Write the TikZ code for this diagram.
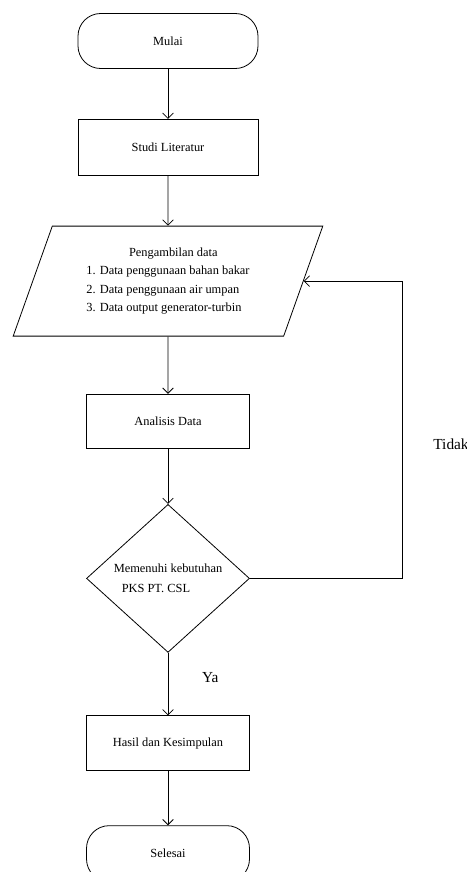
\documentclass[tikz,border=0pt]{standalone}
\usepackage{fontspec}
\setmainfont{Liberation Serif}
\usepackage{tikz}
\usetikzlibrary{shapes.geometric, arrows.meta}
\usetikzlibrary{positioning}
\tikzstyle{terminal} = [rectangle, rounded corners=17pt, minimum width=135pt, minimum
height=41.25pt, text centered, draw=black, semithick, font=\fontsize{9.3}{14}\selectfont]
\tikzstyle{data} = [trapezium, trapezium left angle=69, trapezium right angle=111,
trapezium stretches=true, minimum width=232.5pt, minimum height=82.5pt, align=left,
draw=black, semithick, font=\fontsize{9.3}{13.9}\selectfont]
\tikzstyle{process} = [rectangle, minimum width=122.25pt, minimum height=40.5pt,
text centered, draw=black, semithick, font=\fontsize{9.3}{14}\selectfont]
\tikzstyle{decision} = [diamond, minimum width=122.25pt, minimum height=111pt,
inner sep=0pt, align=left, draw=black, semithick, font=\fontsize{9.3}{15}\selectfont]
\tikzstyle{arrow} = [semithick,-{Straight Barb[length=4pt,width=8pt]}]
\tikzstyle{answer} = [font=\fontsize{11.5}{14}\selectfont, anchor=west]

\begin{document}
\begin{tikzpicture}
    \useasboundingbox (0,0) rectangle (350.25pt,-654pt);
    \node (start) [terminal] at (126pt,-30.75pt) {Mulai};
    \node (pro1) [process, below=37.5pt of start, minimum width=135pt, minimum height=42pt] {Studi Literatur};
    \node (in1) [data, below=37.5pt of pro1] {\hspace*{32pt}Pengambilan data\\1. Data penggunaan bahan bakar\\2. Data penggunaan air umpan\\3. Data output generator-turbin};
    \node (pro2) [process, below=43pt of in1] {Analisis Data};
    \node (dec1) [decision, below=41.5pt of pro2] {Memenuhi kebutuhan\\\hspace*{6pt}PKS PT. CSL};
    \node (pro3) [process, below=47pt of dec1, minimum height=41.25pt] {Hasil dan Kesimpulan};
    \node (stop) [terminal, below=40.5pt of pro3, minimum width=122.25pt, minimum height=42pt] {Selesai};
    \coordinate (loop) at ([xshift=114pt]dec1.east);

    \draw[arrow] (start) -- (pro1);
    \draw[arrow] (pro1) -- (in1);
    \draw[arrow] (in1) -- (pro2);
    \draw[arrow] (pro2) -- (dec1);
    \draw[arrow] (dec1) -- node[answer, pos=0.4, xshift=22pt] {Ya} (pro3);
    \draw[arrow] (pro3) -- (stop);
    \draw[arrow] (dec1.east) -- (loop) |- node[answer, pos=0.225, xshift=20pt] {Tidak} (in1.east);

\end{tikzpicture}
\end{document}
